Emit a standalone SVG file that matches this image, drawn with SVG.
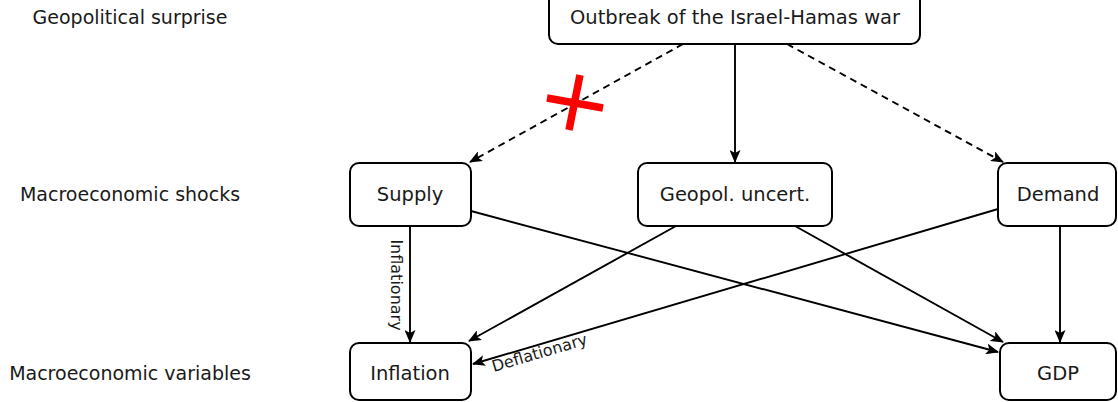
<svg xmlns="http://www.w3.org/2000/svg" width="1118" height="402" viewBox="0 0 1118 402">
<defs>
<marker id="ah" viewBox="0 0 13 11" refX="12" refY="5.5" markerWidth="13" markerHeight="11" markerUnits="userSpaceOnUse" orient="auto">
<path d="M0,0 L13,5.5 L0,11 L3,5.5 Z" fill="#000"/>
</marker>
<style>
text{font-family:"DejaVu Sans","Liberation Sans",sans-serif;fill:#1a1a1a}
.lbl{font-size:19px;text-anchor:middle}
.node rect{fill:#fff;stroke:#000;stroke-width:2}
.node text{font-size:19.5px;text-anchor:middle}
.edge{stroke:#000;stroke-width:1.9;fill:none;marker-end:url(#ah)}
.dash{stroke-dasharray:7,5}
.elab{font-size:16px;text-anchor:middle}
</style>
</defs>
<rect width="1118" height="402" fill="#fff"/>
<g id="row-labels">
<text class="lbl" x="130" y="24">Geopolitical surprise</text>
<text class="lbl" x="130" y="201">Macroeconomic shocks</text>
<text class="lbl" x="130" y="380">Macroeconomic variables</text>
</g>
<g id="connectors">
<path class="edge dash" d="M683,44 L470,162"/>
<path class="edge" d="M735,44 L735,162"/>
<path class="edge dash" d="M787,44 L1003,162"/>
<path class="edge" d="M410,226 L410,342"/>
<path class="edge" d="M471,211 L998,352"/>
<path class="edge" d="M676,226 L469,341"/>
<path class="edge" d="M795,226 L1003,342"/>
<path class="edge" d="M998,209 L473,364"/>
<path class="edge" d="M1060,226 L1060,342"/>
<text class="elab" transform="translate(391,285) rotate(90)">Inflationary</text>
<text class="elab" transform="translate(541,358) rotate(-16.4)">Deflationary</text>
</g>
<g id="cross">
<path d="M547,98 L603,108 M580,75 L569,130" stroke="#f00" stroke-width="7.5" fill="none"/>
</g>
<g id="n-war" class="node">
<rect x="549" y="-8" width="371" height="52" rx="9"/>
<text x="735" y="24">Outbreak of the Israel-Hamas war</text>
</g>
<g id="n-supply" class="node">
<rect x="350" y="163" width="121" height="63" rx="9"/>
<text x="410" y="201">Supply</text>
</g>
<g id="n-geo" class="node">
<rect x="638" y="163" width="194" height="63" rx="9"/>
<text x="735" y="201">Geopol.  uncert.</text>
</g>
<g id="n-demand" class="node">
<rect x="998" y="163" width="118" height="63" rx="9"/>
<text x="1058" y="201">Demand</text>
</g>
<g id="n-inflation" class="node">
<rect x="350" y="343" width="121" height="57" rx="9"/>
<text x="410" y="380">Inflation</text>
</g>
<g id="n-gdp" class="node">
<rect x="1000" y="343" width="116" height="57" rx="9"/>
<text x="1058" y="380">GDP</text>
</g>
</svg>
